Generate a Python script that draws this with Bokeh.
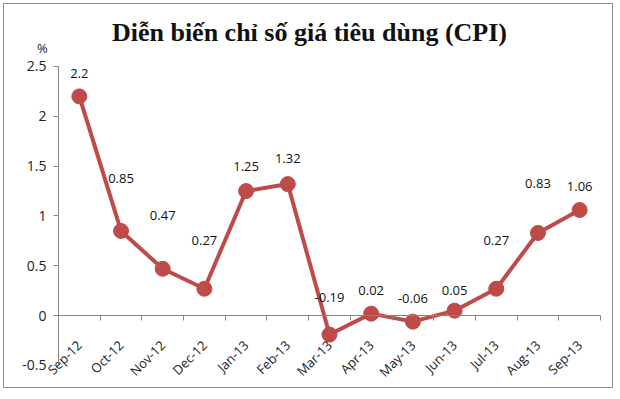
import math
from bokeh.plotting import figure
from bokeh.models import (ColumnDataSource, LinearAxis, FixedTicker, Range1d,
                          LabelSet, Label)
from bokeh.core.properties import value
from bokeh.embed import file_html
from bokeh.resources import INLINE

months = ["Sep-12", "Oct-12", "Nov-12", "Dec-12", "Jan-13", "Feb-13", "Mar-13",
          "Apr-13", "May-13", "Jun-13", "Jul-13", "Aug-13", "Sep-13"]
cpi = [2.2, 0.85, 0.47, 0.27, 1.25, 1.32, -0.19, 0.02, -0.06, 0.05, 0.27, 0.83, 1.06]
y_ticks = [-0.5, 0, 0.5, 1, 1.5, 2, 2.5]
title_text = "Diễn biến chỉ số giá tiêu dùng (CPI)"
unit_text = "%"

# styling: label offset above each marker (pixels)
label_offsets = [23, 52, 53, 48, 25, 26, 37, 23, 23, 20, 48, 49, 24]

idx = list(range(len(months)))
src = ColumnDataSource(dict(x=idx, y=cpi, lbl=[f"{v:g}" for v in cpi], off=label_offsets))

RED = "#be4b48"
AXIS = "#868686"

n = len(months)
xb = (-0.5, n - 0.5)
yb = (y_ticks[0], y_ticks[-1])
# view extends beyond the plotted area so that outside texts stay visible
p = figure(width=610, height=385, output_backend="svg", toolbar_location=None,
           x_range=Range1d(-1.795, 12.836), y_range=Range1d(-0.741, 3.122),
           x_axis_location=None, y_axis_location=None,
           min_border_left=0, min_border_right=0, min_border_top=0, min_border_bottom=0)
p.styles = {"border": "1px solid #8c8c8c", "margin": "3px 0 0 3px"}
p.outline_line_color = None
p.xgrid.visible = False
p.ygrid.visible = False
p.background_fill_color = "white"
p.border_fill_color = "white"

yax = LinearAxis(ticker=FixedTicker(ticks=y_ticks),
                 major_label_overrides={t: f"{t:g}" for t in y_ticks},
                 fixed_location=xb[0], bounds=yb)
yax.axis_line_color = AXIS
yax.major_tick_line_color = AXIS
yax.major_tick_out = 5
yax.major_tick_in = 0
yax.minor_tick_line_color = None
yax.major_label_text_font = "Open Sans"
yax.major_label_text_font_size = "14px"
yax.major_label_text_color = "#222222"
yax.major_label_standoff = 7
p.add_layout(yax, "left")

xax = LinearAxis(ticker=FixedTicker(ticks=idx, minor_ticks=[i - 0.5 for i in range(n + 1)]),
                 major_label_overrides={i: m for i, m in zip(idx, months)},
                 fixed_location=0, bounds=xb)
xax.axis_line_color = AXIS
xax.major_tick_out = 0
xax.major_tick_in = 0
xax.major_tick_line_color = None
xax.minor_tick_line_color = AXIS
xax.minor_tick_out = 5
xax.minor_tick_in = 0
xax.major_label_orientation = math.pi / 4
xax.major_label_text_font = "Open Sans"
xax.major_label_text_font_size = "13px"
xax.major_label_text_color = "#222222"
xax.major_label_standoff = 22
p.add_layout(xax, "below")

p.line("x", "y", source=src, line_color=RED, line_width=4)
p.scatter("x", "y", source=src, size=15, fill_color=RED, line_color=RED)

labels = LabelSet(x="x", y="y", text="lbl", source=src, y_offset="off",
                  text_align="center", text_baseline="middle",
                  text_font=value("Open Sans"), text_font_size="13px", text_color="#111111")
p.add_layout(labels)

p.add_layout(Label(x=5.52, y=2.841, text=title_text,
                   text_font="Liberation Serif", text_font_style="bold",
                   text_font_size="26px", text_align="center", text_baseline="middle",
                   text_color="#111111"))
p.add_layout(Label(x=-0.884, y=2.69, text=unit_text,
                   text_font="Open Sans", text_font_size="13px", text_align="center",
                   text_baseline="middle", text_color="#222222"))

open("out.html", "w").write(file_html(p, INLINE))
